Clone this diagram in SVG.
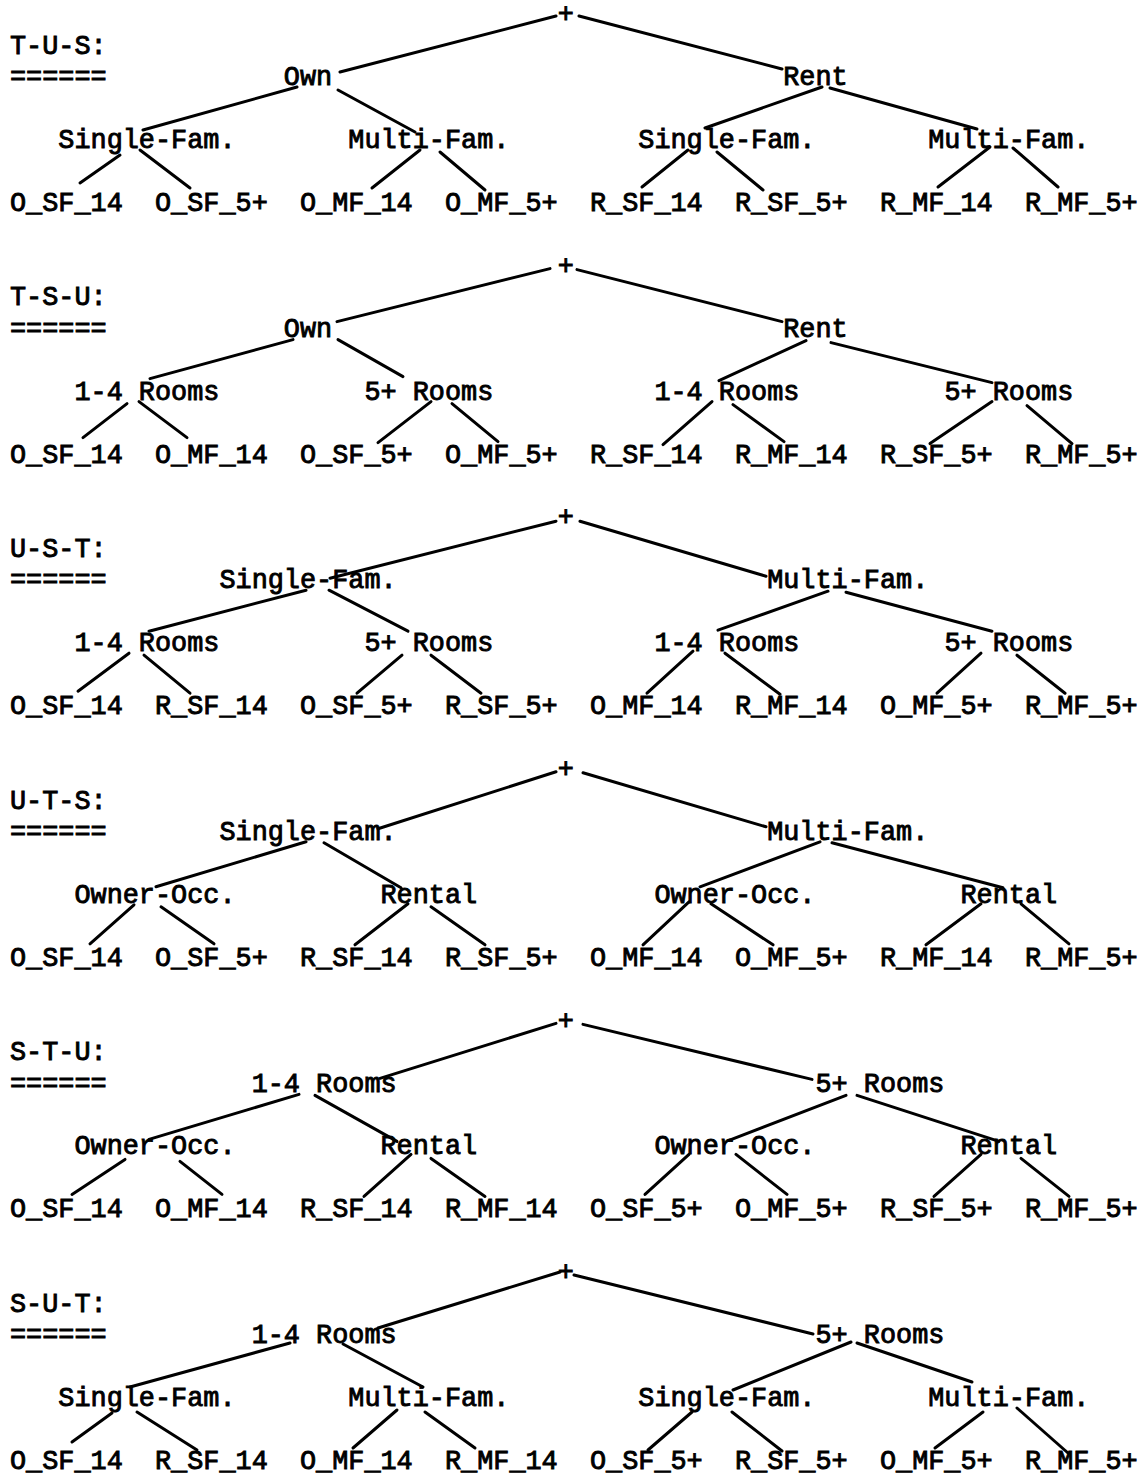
<svg xmlns="http://www.w3.org/2000/svg" width="1145" height="1476" viewBox="0 0 1145 1476">
<style>
  text { font-family: "Liberation Mono", "Courier New", monospace; font-size: 26.85px; fill: #000; stroke: #000; stroke-width: 0.9; }
  #connectors line { stroke: #000; stroke-width: 3; stroke-linecap: round; fill: none; }
</style>
<rect width="1145" height="1476" fill="#fff"/>

<!-- Connectors: one sub-group per tree, each tree is 251.6 px tall -->
<g id="connectors">
  <g id="c-tus">
    <line x1="556" y1="16" x2="340" y2="72"/>
    <line x1="579" y1="16" x2="782" y2="69"/>
    <line x1="297" y1="87" x2="143" y2="130"/>
    <line x1="338" y1="90" x2="415" y2="132"/>
    <line x1="822" y1="87" x2="705" y2="128"/>
    <line x1="830" y1="88" x2="977" y2="129"/>
    <line x1="120" y1="155" x2="80" y2="183"/>
    <line x1="140" y1="150" x2="190" y2="188"/>
    <line x1="420" y1="150" x2="372" y2="188"/>
    <line x1="440" y1="152" x2="485" y2="190"/>
    <line x1="688" y1="150" x2="642" y2="187"/>
    <line x1="717" y1="152" x2="763" y2="190"/>
    <line x1="990" y1="147" x2="938" y2="187"/>
    <line x1="1013" y1="148" x2="1058" y2="187"/>
  </g>
  <g id="c-tsu" transform="translate(0,251.6)">
    <line x1="550" y1="17" x2="337" y2="70"/>
    <line x1="577" y1="18" x2="782" y2="70"/>
    <line x1="293" y1="88" x2="150" y2="127"/>
    <line x1="338" y1="88" x2="403" y2="125"/>
    <line x1="806" y1="89" x2="719" y2="129"/>
    <line x1="831" y1="91" x2="992" y2="131"/>
    <line x1="127" y1="152" x2="83" y2="186"/>
    <line x1="139" y1="150" x2="187" y2="186"/>
    <line x1="431" y1="150" x2="378" y2="191"/>
    <line x1="452" y1="152" x2="498" y2="190"/>
    <line x1="712" y1="150" x2="663" y2="193"/>
    <line x1="733" y1="153" x2="784" y2="190"/>
    <line x1="992" y1="150" x2="930" y2="192"/>
    <line x1="1027" y1="154" x2="1072" y2="192"/>
  </g>
  <g id="c-ust" transform="translate(0,503.2)">
    <line x1="556" y1="18" x2="330" y2="75"/>
    <line x1="580" y1="18" x2="766" y2="73"/>
    <line x1="306" y1="87" x2="149" y2="128"/>
    <line x1="329" y1="87" x2="408" y2="128"/>
    <line x1="828" y1="88" x2="718" y2="127"/>
    <line x1="846" y1="89" x2="992" y2="128"/>
    <line x1="129" y1="150" x2="78" y2="188"/>
    <line x1="144" y1="152" x2="190" y2="190"/>
    <line x1="402" y1="152" x2="357" y2="190"/>
    <line x1="431" y1="152" x2="481" y2="190"/>
    <line x1="693" y1="148" x2="647" y2="190"/>
    <line x1="725" y1="150" x2="780" y2="191"/>
    <line x1="981" y1="150" x2="937" y2="190"/>
    <line x1="1017" y1="152" x2="1065" y2="190"/>
  </g>
  <g id="c-uts" transform="translate(0,754.8)">
    <line x1="556" y1="17" x2="378" y2="74"/>
    <line x1="583" y1="18" x2="766" y2="72"/>
    <line x1="306" y1="87" x2="156" y2="132"/>
    <line x1="324" y1="88" x2="401" y2="133"/>
    <line x1="820" y1="87" x2="700" y2="132"/>
    <line x1="832" y1="88" x2="1003" y2="133"/>
    <line x1="134" y1="150" x2="90" y2="189"/>
    <line x1="161" y1="152" x2="214" y2="189"/>
    <line x1="408" y1="149" x2="355" y2="190"/>
    <line x1="431" y1="152" x2="485" y2="190"/>
    <line x1="689" y1="147" x2="643" y2="190"/>
    <line x1="711" y1="149" x2="773" y2="190"/>
    <line x1="981" y1="149" x2="926" y2="190"/>
    <line x1="1021" y1="149" x2="1069" y2="189"/>
  </g>
  <g id="c-stu" transform="translate(0,1006.4)">
    <line x1="556" y1="17" x2="380" y2="72"/>
    <line x1="583" y1="18" x2="812" y2="73"/>
    <line x1="299" y1="88" x2="149" y2="133"/>
    <line x1="315" y1="89" x2="397" y2="135"/>
    <line x1="846" y1="89" x2="729" y2="134"/>
    <line x1="857" y1="89" x2="999" y2="135"/>
    <line x1="125" y1="153" x2="72" y2="188"/>
    <line x1="180" y1="155" x2="222" y2="188"/>
    <line x1="411" y1="148" x2="364" y2="190"/>
    <line x1="431" y1="152" x2="485" y2="190"/>
    <line x1="689" y1="148" x2="645" y2="188"/>
    <line x1="736" y1="148" x2="787" y2="188"/>
    <line x1="981" y1="148" x2="934" y2="190"/>
    <line x1="1021" y1="152" x2="1069" y2="190"/>
  </g>
  <g id="c-sut" transform="translate(0,1258)">
    <line x1="560" y1="14" x2="378" y2="70"/>
    <line x1="574" y1="17" x2="813" y2="76"/>
    <line x1="290" y1="85" x2="130" y2="129"/>
    <line x1="343" y1="86" x2="423" y2="129"/>
    <line x1="851" y1="84" x2="733" y2="132"/>
    <line x1="857" y1="85" x2="972" y2="124"/>
    <line x1="112" y1="155" x2="72" y2="184"/>
    <line x1="137" y1="154" x2="197" y2="192"/>
    <line x1="397" y1="152" x2="353" y2="190"/>
    <line x1="425" y1="154" x2="475" y2="190"/>
    <line x1="692" y1="154" x2="648" y2="192"/>
    <line x1="732" y1="154" x2="782" y2="193"/>
    <line x1="983" y1="154" x2="935" y2="190"/>
    <line x1="1017" y1="150" x2="1068" y2="195"/>
  </g>
</g>

<!-- Tree T-U-S -->
<g id="tree-tus">
  <g id="tus-title"><text x="10" y="53.75">T-U-S:</text><text x="10" y="85.2">======</text></g>
  <g id="tus-root"><text x="557.74" y="22.3">+</text></g>
  <g id="tus-own"><text x="283.87" y="85.2">Own</text></g>
  <g id="tus-rent"><text x="783.28" y="85.2">Rent</text></g>
  <g id="tus-own-sf"><text x="58.33" y="148.1">Single-Fam.</text></g>
  <g id="tus-own-mf"><text x="348.31" y="148.1">Multi-Fam.</text></g>
  <g id="tus-rent-sf"><text x="638.29" y="148.1">Single-Fam.</text></g>
  <g id="tus-rent-mf"><text x="928.27" y="148.1">Multi-Fam.</text></g>
  <g id="tus-l1"><text x="10" y="211">O_SF_14</text></g>
  <g id="tus-l2"><text x="154.99" y="211">O_SF_5+</text></g>
  <g id="tus-l3"><text x="299.98" y="211">O_MF_14</text></g>
  <g id="tus-l4"><text x="444.97" y="211">O_MF_5+</text></g>
  <g id="tus-l5"><text x="589.96" y="211">R_SF_14</text></g>
  <g id="tus-l6"><text x="734.95" y="211">R_SF_5+</text></g>
  <g id="tus-l7"><text x="879.94" y="211">R_MF_14</text></g>
  <g id="tus-l8"><text x="1024.93" y="211">R_MF_5+</text></g>
</g>

<!-- Tree T-S-U -->
<g id="tree-tsu" transform="translate(0,251.6)">
  <g id="tsu-title"><text x="10" y="53.75">T-S-U:</text><text x="10" y="85.2">======</text></g>
  <g id="tsu-root"><text x="557.74" y="22.3">+</text></g>
  <g id="tsu-own"><text x="283.87" y="85.2">Own</text></g>
  <g id="tsu-rent"><text x="783.28" y="85.2">Rent</text></g>
  <g id="tsu-own-r14"><text x="74.44" y="148.1">1-4 Rooms</text></g>
  <g id="tsu-own-r5"><text x="364.42" y="148.1">5+ Rooms</text></g>
  <g id="tsu-rent-r14"><text x="654.4" y="148.1">1-4 Rooms</text></g>
  <g id="tsu-rent-r5"><text x="944.38" y="148.1">5+ Rooms</text></g>
  <g id="tsu-l1"><text x="10" y="211">O_SF_14</text></g>
  <g id="tsu-l2"><text x="154.99" y="211">O_MF_14</text></g>
  <g id="tsu-l3"><text x="299.98" y="211">O_SF_5+</text></g>
  <g id="tsu-l4"><text x="444.97" y="211">O_MF_5+</text></g>
  <g id="tsu-l5"><text x="589.96" y="211">R_SF_14</text></g>
  <g id="tsu-l6"><text x="734.95" y="211">R_MF_14</text></g>
  <g id="tsu-l7"><text x="879.94" y="211">R_SF_5+</text></g>
  <g id="tsu-l8"><text x="1024.93" y="211">R_MF_5+</text></g>
</g>

<!-- Tree U-S-T -->
<g id="tree-ust" transform="translate(0,503.2)">
  <g id="ust-title"><text x="10" y="53.75">U-S-T:</text><text x="10" y="85.2">======</text></g>
  <g id="ust-root"><text x="557.74" y="22.3">+</text></g>
  <g id="ust-sf"><text x="219.43" y="85.2">Single-Fam.</text></g>
  <g id="ust-mf"><text x="767.17" y="85.2">Multi-Fam.</text></g>
  <g id="ust-sf-r14"><text x="74.44" y="148.1">1-4 Rooms</text></g>
  <g id="ust-sf-r5"><text x="364.42" y="148.1">5+ Rooms</text></g>
  <g id="ust-mf-r14"><text x="654.4" y="148.1">1-4 Rooms</text></g>
  <g id="ust-mf-r5"><text x="944.38" y="148.1">5+ Rooms</text></g>
  <g id="ust-l1"><text x="10" y="211">O_SF_14</text></g>
  <g id="ust-l2"><text x="154.99" y="211">R_SF_14</text></g>
  <g id="ust-l3"><text x="299.98" y="211">O_SF_5+</text></g>
  <g id="ust-l4"><text x="444.97" y="211">R_SF_5+</text></g>
  <g id="ust-l5"><text x="589.96" y="211">O_MF_14</text></g>
  <g id="ust-l6"><text x="734.95" y="211">R_MF_14</text></g>
  <g id="ust-l7"><text x="879.94" y="211">O_MF_5+</text></g>
  <g id="ust-l8"><text x="1024.93" y="211">R_MF_5+</text></g>
</g>

<!-- Tree U-T-S -->
<g id="tree-uts" transform="translate(0,754.8)">
  <g id="uts-title"><text x="10" y="53.75">U-T-S:</text><text x="10" y="85.2">======</text></g>
  <g id="uts-root"><text x="557.74" y="22.3">+</text></g>
  <g id="uts-sf"><text x="219.43" y="85.2">Single-Fam.</text></g>
  <g id="uts-mf"><text x="767.17" y="85.2">Multi-Fam.</text></g>
  <g id="uts-sf-own"><text x="74.44" y="148.1">Owner-Occ.</text></g>
  <g id="uts-sf-rent"><text x="380.53" y="148.1">Rental</text></g>
  <g id="uts-mf-own"><text x="654.4" y="148.1">Owner-Occ.</text></g>
  <g id="uts-mf-rent"><text x="960.49" y="148.1">Rental</text></g>
  <g id="uts-l1"><text x="10" y="211">O_SF_14</text></g>
  <g id="uts-l2"><text x="154.99" y="211">O_SF_5+</text></g>
  <g id="uts-l3"><text x="299.98" y="211">R_SF_14</text></g>
  <g id="uts-l4"><text x="444.97" y="211">R_SF_5+</text></g>
  <g id="uts-l5"><text x="589.96" y="211">O_MF_14</text></g>
  <g id="uts-l6"><text x="734.95" y="211">O_MF_5+</text></g>
  <g id="uts-l7"><text x="879.94" y="211">R_MF_14</text></g>
  <g id="uts-l8"><text x="1024.93" y="211">R_MF_5+</text></g>
</g>

<!-- Tree S-T-U -->
<g id="tree-stu" transform="translate(0,1006.4)">
  <g id="stu-title"><text x="10" y="53.75">S-T-U:</text><text x="10" y="85.2">======</text></g>
  <g id="stu-root"><text x="557.74" y="22.3">+</text></g>
  <g id="stu-r14"><text x="251.65" y="85.2">1-4 Rooms</text></g>
  <g id="stu-r5"><text x="815.5" y="85.2">5+ Rooms</text></g>
  <g id="stu-r14-own"><text x="74.44" y="148.1">Owner-Occ.</text></g>
  <g id="stu-r14-rent"><text x="380.53" y="148.1">Rental</text></g>
  <g id="stu-r5-own"><text x="654.4" y="148.1">Owner-Occ.</text></g>
  <g id="stu-r5-rent"><text x="960.49" y="148.1">Rental</text></g>
  <g id="stu-l1"><text x="10" y="211">O_SF_14</text></g>
  <g id="stu-l2"><text x="154.99" y="211">O_MF_14</text></g>
  <g id="stu-l3"><text x="299.98" y="211">R_SF_14</text></g>
  <g id="stu-l4"><text x="444.97" y="211">R_MF_14</text></g>
  <g id="stu-l5"><text x="589.96" y="211">O_SF_5+</text></g>
  <g id="stu-l6"><text x="734.95" y="211">O_MF_5+</text></g>
  <g id="stu-l7"><text x="879.94" y="211">R_SF_5+</text></g>
  <g id="stu-l8"><text x="1024.93" y="211">R_MF_5+</text></g>
</g>

<!-- Tree S-U-T -->
<g id="tree-sut" transform="translate(0,1258)">
  <g id="sut-title"><text x="10" y="53.75">S-U-T:</text><text x="10" y="85.2">======</text></g>
  <g id="sut-root"><text x="557.74" y="22.3">+</text></g>
  <g id="sut-r14"><text x="251.65" y="85.2">1-4 Rooms</text></g>
  <g id="sut-r5"><text x="815.5" y="85.2">5+ Rooms</text></g>
  <g id="sut-r14-sf"><text x="58.33" y="148.1">Single-Fam.</text></g>
  <g id="sut-r14-mf"><text x="348.31" y="148.1">Multi-Fam.</text></g>
  <g id="sut-r5-sf"><text x="638.29" y="148.1">Single-Fam.</text></g>
  <g id="sut-r5-mf"><text x="928.27" y="148.1">Multi-Fam.</text></g>
  <g id="sut-l1"><text x="10" y="211">O_SF_14</text></g>
  <g id="sut-l2"><text x="154.99" y="211">R_SF_14</text></g>
  <g id="sut-l3"><text x="299.98" y="211">O_MF_14</text></g>
  <g id="sut-l4"><text x="444.97" y="211">R_MF_14</text></g>
  <g id="sut-l5"><text x="589.96" y="211">O_SF_5+</text></g>
  <g id="sut-l6"><text x="734.95" y="211">R_SF_5+</text></g>
  <g id="sut-l7"><text x="879.94" y="211">O_MF_5+</text></g>
  <g id="sut-l8"><text x="1024.93" y="211">R_MF_5+</text></g>
</g>
</svg>
